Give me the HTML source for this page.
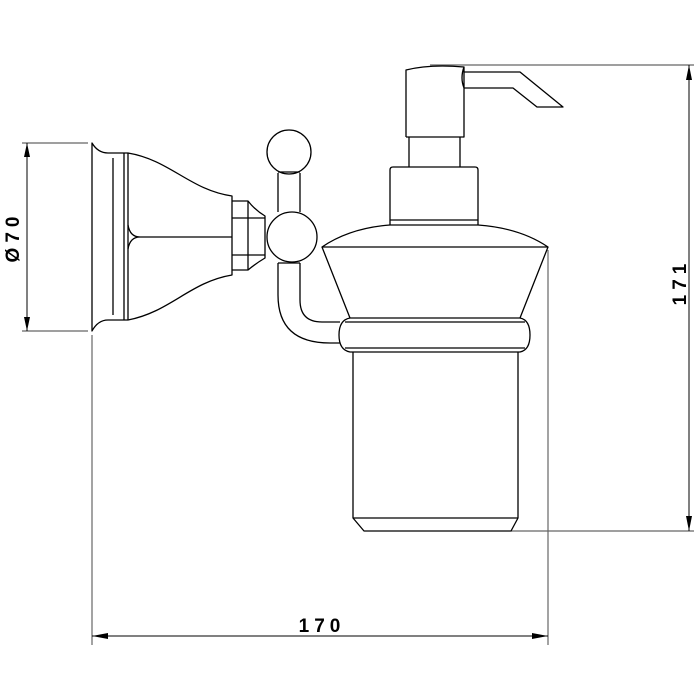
<!DOCTYPE html>
<html><head><meta charset="utf-8"><style>
html,body{margin:0;padding:0;background:#fff;width:700px;height:700px;overflow:hidden}
svg{display:block}
text{font-family:"Liberation Sans",sans-serif;font-weight:bold;font-size:19px;fill:#000;letter-spacing:5px}
</style></head><body>
<svg width="700" height="700" viewBox="0 0 700 700" xmlns="http://www.w3.org/2000/svg">
<g fill="none" stroke="#000" stroke-width="1.3" stroke-linejoin="round">
<!-- dimension lines (grey) -->
<g stroke="#666" stroke-width="1.2">
<line x1="22" y1="143" x2="88" y2="143"/>
<line x1="22" y1="331" x2="88" y2="331"/>
<line x1="92" y1="335" x2="92" y2="645"/>
<line x1="548" y1="250" x2="548" y2="645"/>
<line x1="430" y1="65" x2="694" y2="65"/>
<line x1="511" y1="531" x2="694" y2="531"/>
</g>
<line x1="27" y1="143" x2="27" y2="331" stroke-width="1"/>
<line x1="689" y1="65" x2="689" y2="531" stroke-width="1"/>
<line x1="92" y1="636" x2="548" y2="636" stroke-width="1"/>
<!-- back plate -->
<path d="M92,143 Q98,153 108,153 L128,153 C170,160 190,190 232,196 L232,275 C190,282 170,312 128,320 L108,320 Q98,320 92,331 Z"/>
<line x1="113" y1="158" x2="113" y2="315"/>
<line x1="124" y1="153" x2="124" y2="320"/>
<line x1="128" y1="153" x2="128" y2="320"/>
<path d="M128,225 Q130,237 140,237 L232,237 M128,249 Q130,237 140,237"/>
<!-- nut -->
<path d="M232,201 L248,201 Q255,210 265,216 L265,258 Q255,264 248,270 L232,270"/>
<line x1="248" y1="201" x2="248" y2="270"/>
<line x1="232" y1="218" x2="265" y2="218"/>
<line x1="232" y1="255" x2="265" y2="255"/>
<!-- balls -->
<circle cx="289" cy="152" r="22"/>
<path d="M278,173 L278,212 M300,173 L300,212"/>
<line x1="278" y1="172" x2="300" y2="172"/>
<circle cx="292" cy="237" r="25"/>
<line x1="278" y1="263" x2="300" y2="263"/>
<!-- arm -->
<path d="M278,263 L278,295 Q278,343 330,343 L340,343"/>
<path d="M300,263 L300,300 Q300,322 322,322 L340,322"/>
<!-- pump head -->
<path d="M406,137 L406,70 Q430,64 464,67 Q460,78 464,88 L513,88 L537,107 L563,107 L520,72 L464,72 M464,67 L464,137 Z"/>
<line x1="406" y1="137" x2="464" y2="137"/>
<path d="M409,137 L409,167 M460,137 L460,167"/>
<!-- collar -->
<path d="M390,225 L390,170 Q390,167 393,167 L475,167 Q478,167 478,170 L478,225"/>
<line x1="390" y1="220" x2="478" y2="220"/>
<!-- dome -->
<path d="M322,247 Q350,228 390,225 L478,225 Q520,228 548,247 Z"/>
<!-- cone -->
<path d="M322,247 L350,318 M548,247 L520,318"/>
<!-- ring -->
<path d="M350,318 L520,318 Q530,320 530,335 Q530,350 520,352 L350,352 Q339,350 339,335 Q339,320 350,318 Z"/>
<line x1="345" y1="322" x2="525" y2="322"/>
<line x1="345" y1="348" x2="525" y2="348"/>
<!-- glass -->
<path d="M353,352 L353,518 L364,531 L511,531 L518,518 L518,352"/>
<line x1="353" y1="518" x2="518" y2="518"/>
</g>
<!-- arrowheads -->
<g fill="#000">
<polygon points="27,143 24,157 30,157"/>
<polygon points="27,331 24,317 30,317"/>
<polygon points="689,65 686,80 692,80"/>
<polygon points="689,531 686,516 692,516"/>
<polygon points="92,636 108,633 108,639"/>
<polygon points="548,636 532,633 532,639"/>
</g>
<text x="322" y="632" text-anchor="middle">170</text>
<text transform="translate(19,237) rotate(-90)" text-anchor="middle">Ø70</text>
<text transform="translate(686,282) rotate(-90)" text-anchor="middle">171</text>
</svg>
</body></html>
